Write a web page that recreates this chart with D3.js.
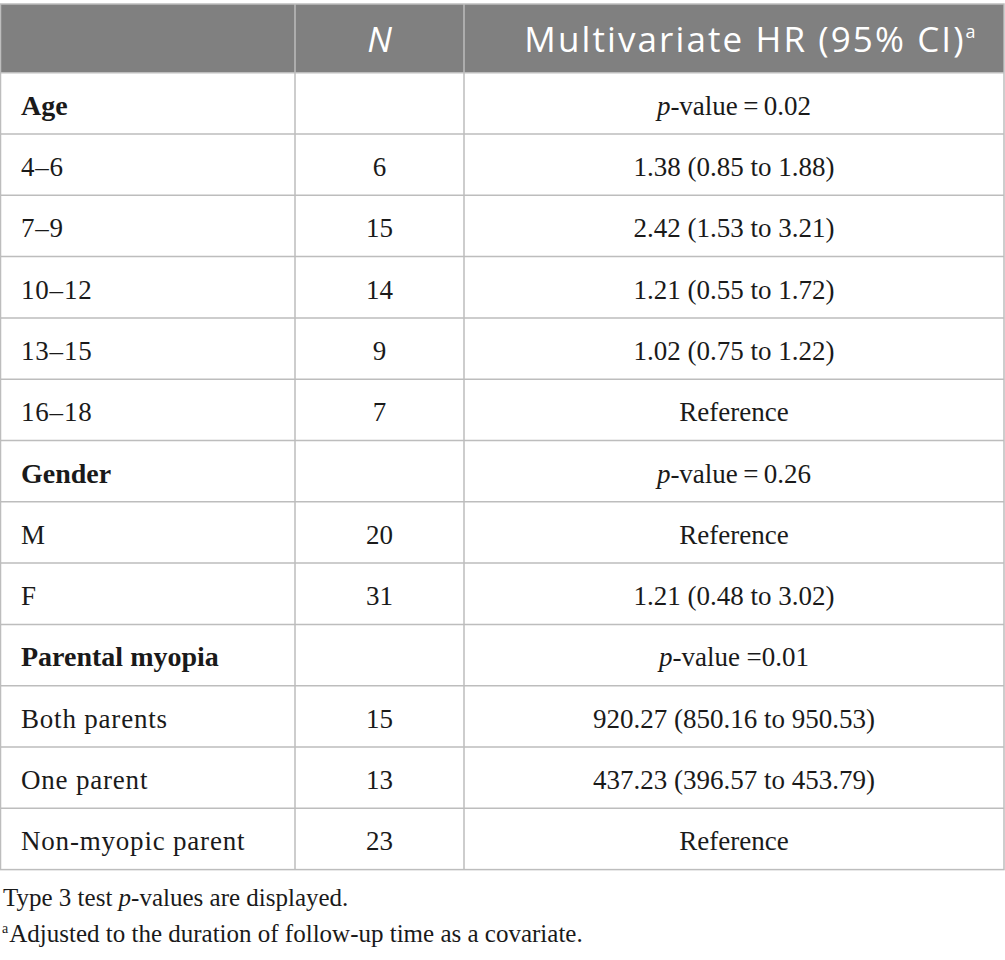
<!DOCTYPE html>
<html>
<head>
<meta charset="utf-8">
<script src="https://cdn.jsdelivr.net/npm/d3@7"></script>
<style>
  html, body { margin: 0; padding: 0; background: #fff; }
  svg { display: block; }
</style>
</head>
<body>
<div id="chart"></div>
<script>
// table content
var rowLabels = ["Age", "4\u20136", "7\u20139", "10\u201312", "13\u201315", "16\u201318",
                 "Gender", "M", "F",
                 "Parental myopia", "Both parents", "One parent", "Non-myopic parent"];
var groupRows = ["Age", "Gender", "Parental myopia"];
var nValues = ["", "6", "15", "14", "9", "7", "", "20", "31", "", "15", "13", "23"];
var hrValues = ["p|\u2009=\u20090.02", "1.38 (0.85 to 1.88)", "2.42 (1.53 to 3.21)",
                "1.21 (0.55 to 1.72)", "1.02 (0.75 to 1.22)", "Reference",
                "p|\u2009=\u20090.26", "Reference", "1.21 (0.48 to 3.02)",
                "p| =0.01", "920.27 (850.16 to 950.53)", "437.23 (396.57 to 453.79)", "Reference"];
var headers = ["", "N", "Multivariate HR (95% CI)"];
var footnotes = ["Type 3 test |p|-values are displayed.",
                 "a|Adjusted to the duration of follow-up time as a covariate."];

var width = 1005, height = 960;
var colEdges = [0.5, 295, 464, 1004];
var headTop = 4, headBottom = 72.7, tableBottom = 869.6;
var grid = "#bdbdbd";
var serif = "'Liberation Serif', 'Times New Roman', serif";

var svg = d3.select("#chart").append("svg")
    .attr("width", width).attr("height", height);

var y = d3.scaleBand()
    .domain(d3.range(rowLabels.length))
    .range([headBottom, tableBottom])
    .padding(0);

// header
svg.append("rect")
    .attr("x", colEdges[0]).attr("y", headTop)
    .attr("width", colEdges[3] - colEdges[0]).attr("height", headBottom - headTop)
    .attr("fill", "#808080");

var head = svg.append("g").attr("font-family", "'Open Sans', sans-serif")
    .attr("font-size", 35).attr("fill", "#fff");

head.append("text")
    .attr("x", (colEdges[1] + colEdges[2]) / 2).attr("y", 51.5)
    .attr("text-anchor", "middle").attr("font-style", "italic")
    .text(headers[1]);

var h2 = head.append("text")
    .attr("x", (colEdges[2] + colEdges[3]) / 2 + 16).attr("y", 51.5)
    .attr("text-anchor", "middle").attr("letter-spacing", 2.1);
h2.append("tspan").text(headers[2]);
h2.append("tspan").attr("font-size", 18).attr("dy", -14).attr("letter-spacing", 0).text("a");

// body
var body = svg.append("g").attr("font-family", serif)
    .attr("font-size", 27).attr("fill", "#1a1a1a");

var rows = body.selectAll("g.row").data(rowLabels).join("g")
    .attr("class", "row")
    .attr("transform", function(d, i) { return "translate(0," + y(i) + ")"; });

rows.append("text")
    .attr("x", 21).attr("y", 42)
    .attr("font-weight", function(d) { return groupRows.indexOf(d) >= 0 ? "bold" : null; })
    .attr("font-size", function(d) { return groupRows.indexOf(d) >= 0 ? 28 : 27; })
    .attr("letter-spacing", function(d) { return groupRows.indexOf(d) >= 0 ? 0 : 0.8; })
    .text(function(d) { return d; });

rows.append("text")
    .attr("x", (colEdges[1] + colEdges[2]) / 2).attr("y", 42)
    .attr("text-anchor", "middle")
    .text(function(d, i) { return nValues[i]; });

rows.append("text")
    .attr("x", (colEdges[2] + colEdges[3]) / 2).attr("y", 42)
    .attr("text-anchor", "middle")
    .each(function(d, i) {
        var t = d3.select(this), v = hrValues[i];
        if (v.indexOf("p|") === 0) {
            t.append("tspan").attr("font-style", "italic").text("p");
            t.append("tspan").text("-value" + v.slice(2));
        } else {
            t.text(v);
        }
    });

// grid lines
var lines = svg.append("g").attr("stroke", grid).attr("stroke-width", 1.5).attr("fill", "none");
lines.selectAll("line.h").data(d3.range(1, rowLabels.length)).join("line")
    .attr("x1", colEdges[0]).attr("x2", colEdges[3])
    .attr("y1", function(i) { return y(i); }).attr("y2", function(i) { return y(i); });
lines.selectAll("line.v").data(colEdges.slice(1, 3)).join("line")
    .attr("x1", function(d) { return d; }).attr("x2", function(d) { return d; })
    .attr("y1", headTop).attr("y2", tableBottom);
lines.append("rect")
    .attr("x", colEdges[0]).attr("y", headTop)
    .attr("width", colEdges[3] - colEdges[0]).attr("height", tableBottom - headTop);
lines.append("line")
    .attr("x1", colEdges[0]).attr("x2", colEdges[3])
    .attr("y1", headBottom).attr("y2", headBottom);

// footnotes
var foot = svg.append("g").attr("font-family", serif)
    .attr("font-size", 25).attr("fill", "#1a1a1a");

var f1 = foot.append("text").attr("x", 3).attr("y", 906);
var parts = footnotes[0].split("|");
f1.append("tspan").text(parts[0]);
f1.append("tspan").attr("font-style", "italic").text(parts[1]);
f1.append("tspan").text(parts[2]);

var f2 = foot.append("text").attr("x", 2).attr("y", 942);
var p2 = footnotes[1].split("|");
f2.append("tspan").attr("font-size", 14).attr("dy", -9).text(p2[0]);
f2.append("tspan").attr("dy", 9).attr("dx", 1).text(p2[1]);
</script>
</body>
</html>
